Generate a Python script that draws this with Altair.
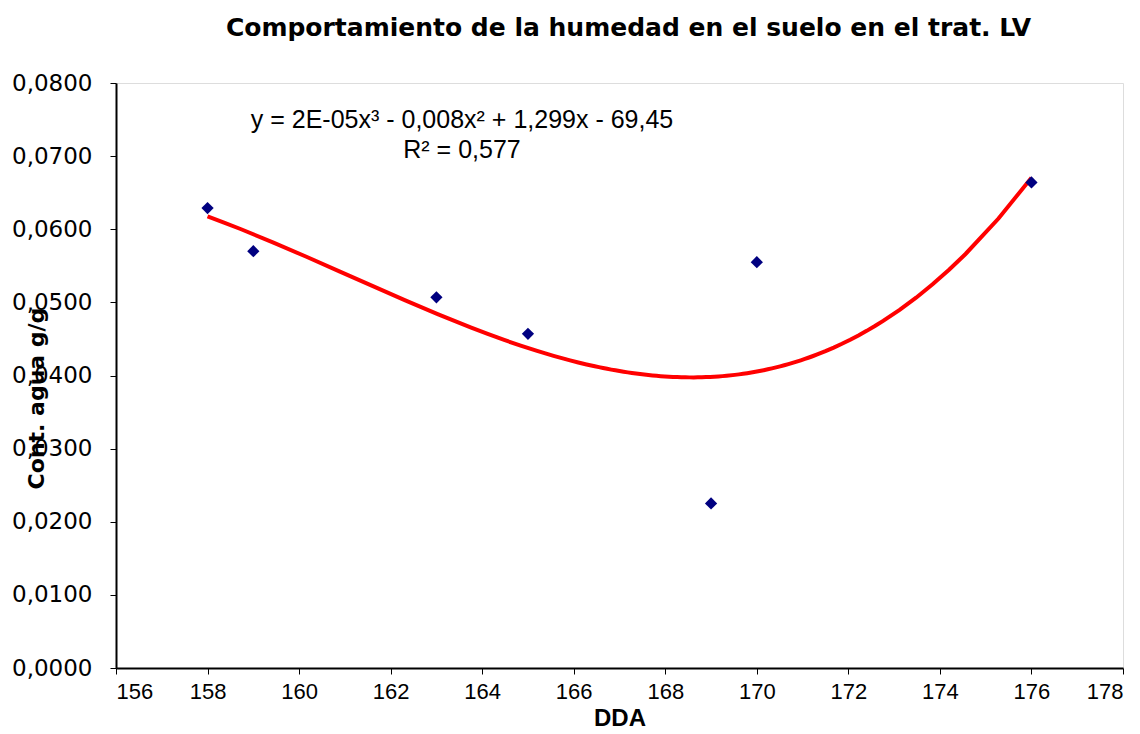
import altair as alt
import pandas as pd

# Data
dda = [158, 159, 163, 165, 169, 170, 176]
agua = [0.0629, 0.0570, 0.0507, 0.0457, 0.0225, 0.0555, 0.0664]
x_ticks = [156, 158, 160, 162, 164, 166, 168, 170, 172, 174, 176, 178]
y_ticks = [0.0, 0.01, 0.02, 0.03, 0.04, 0.05, 0.06, 0.07, 0.08]
title_text = "Comportamiento de la humedad en el suelo en el trat. LV"
eq_line1 = "y = 2E-05x\u00b3 - 0,008x\u00b2 + 1,299x - 69,45"
eq_line2 = "R\u00b2 = 0,577"

df = pd.DataFrame({"DDA": dda, "agua": agua})
FONT = "Liberation Sans"
WIDE = "DejaVu Sans"

x_enc = alt.X(
    "DDA:Q",
    scale=alt.Scale(domain=[156, 178], nice=False, zero=False),
    axis=alt.Axis(
        values=x_ticks, title="DDA", grid=False,
        labelFont=FONT, labelFontSize=22, labelColor="black", labelPadding=7,
        titleFont=FONT, titleFontSize=24, titleFontWeight="bold", titleColor="black",
        titlePadding=4,
        tickColor="black", tickSize=6, domainColor="black", domainWidth=2,
    ),
)
y_enc = alt.Y(
    "agua:Q",
    scale=alt.Scale(domain=[0, 0.08], nice=False),
    axis=alt.Axis(
        values=y_ticks, title="Cont. agua g/g", grid=False,
        labelExpr="replace(format(datum.value, '.4f'), '.', ',')",
        labelFont=WIDE, labelFontSize=23, labelColor="black", labelPadding=18,
        titleFont=WIDE, titleFontSize=22, titleFontWeight="bold", titleColor="black",
        titleX=-80, titleY=315, titleAngle=270, titleAlign="center", titleBaseline="middle",
        tickColor="black", tickSize=6, domainColor="black", domainWidth=2,
    ),
)

base = alt.Chart(df)

points = base.mark_point(shape="diamond", filled=True, size=150, color="#000080", opacity=1).encode(
    x=x_enc, y=y_enc
)

trend = base.transform_regression("DDA", "agua", method="poly", order=3).mark_line(
    color="#FF0000", strokeWidth=4
).encode(x=x_enc, y=y_enc)

eq1 = alt.Chart(pd.DataFrame({"t": [eq_line1]})).mark_text(
    font=FONT, fontSize=25, color="black", align="center", baseline="middle"
).encode(text="t:N", x=alt.value(346), y=alt.value(37))

eq2 = alt.Chart(pd.DataFrame({"t": [eq_line2]})).mark_text(
    font=FONT, fontSize=25, color="black", align="center", baseline="middle"
).encode(text="t:N", x=alt.value(346), y=alt.value(67))

chart = alt.layer(trend, points, eq1, eq2).properties(
    width=1007,
    height=585,
    autosize=alt.AutoSizeParams(type="none"),
    padding={"left": 108, "top": 75, "right": 9, "bottom": 58},
    title=alt.TitleParams(
        text=title_text, font=WIDE, fontSize=25, fontWeight="bold", color="black",
        anchor="middle", dx=9, offset=31,
    ),
).configure_view(
    stroke="#999999", strokeWidth=2
).configure(background="white")

chart.save("out.html", embed_options={"renderer": "svg", "actions": False})
